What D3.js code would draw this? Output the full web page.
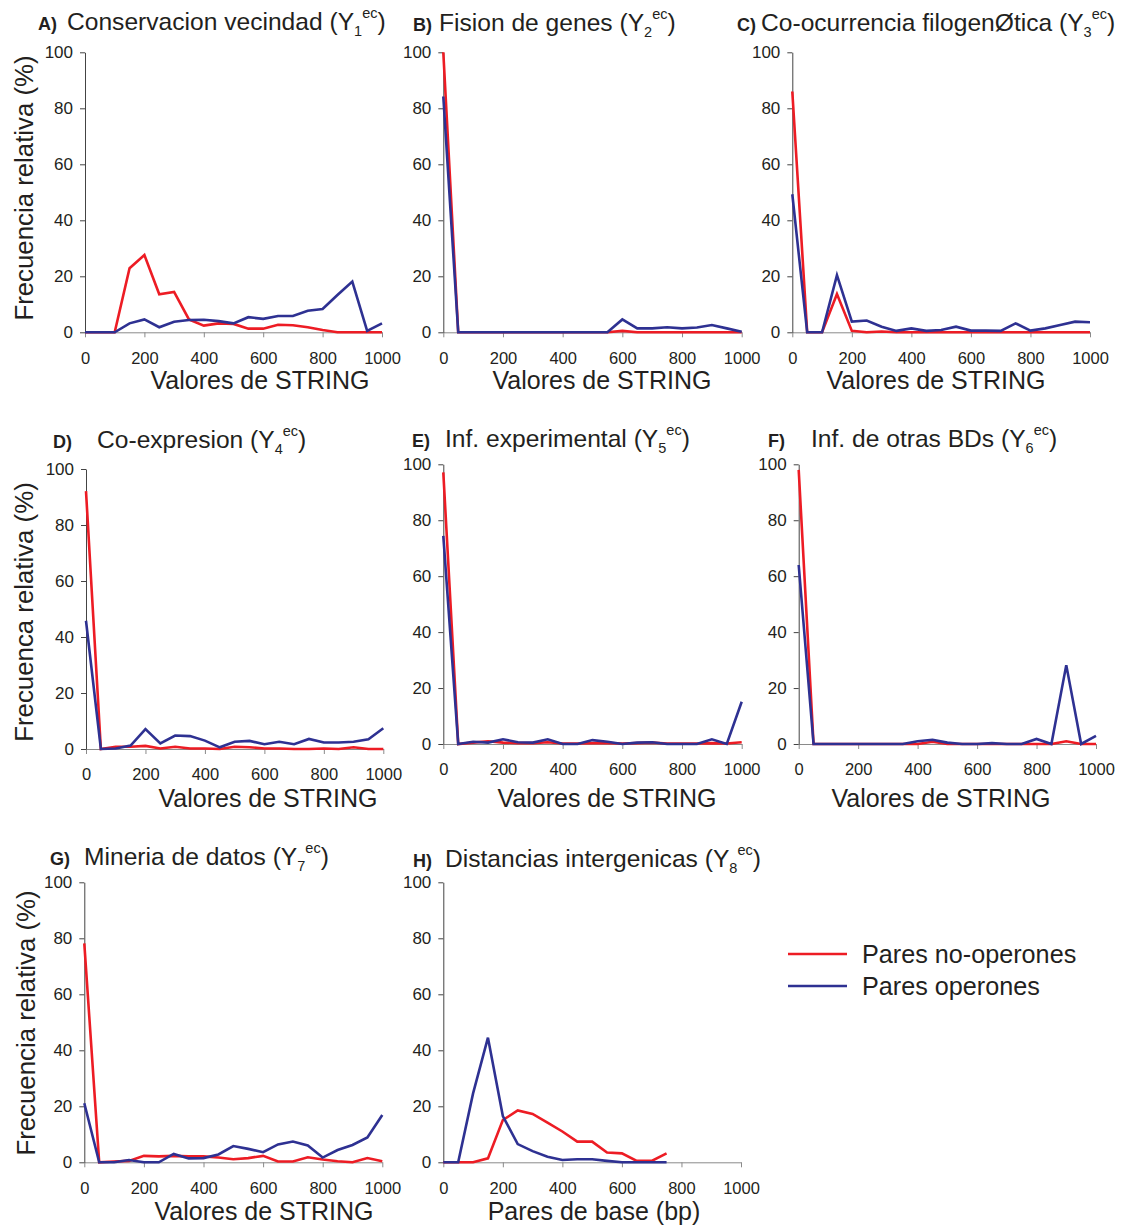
<!DOCTYPE html>
<html><head><meta charset="utf-8">
<script src="https://cdn.jsdelivr.net/npm/d3@7"></script>
<style>body{margin:0;background:#fff}svg{display:block;font-family:"Liberation Sans",Arial,sans-serif}</style>
</head><body>
<svg id="c" width="1124" height="1226"></svg>
<script>
// ---------- DATA ----------
const xString = [0,50,100,150,200,250,300,350,400,450,500,550,600,650,700,750,800,850,900,950,1000];
const xBp = [0,50,100,150,200,250,300,350,400,450,500,550,600,650,700,750];
const xTicks = [0,200,400,600,800,1000];
const yTicks = [0,20,40,60,80,100];
const seriesNames = ["Pares no-operones","Pares operones"];

const aRed  = [0,0,0,22.9,27.6,13.6,14.4,4.6,2.4,3.2,3,1.3,1.3,2.7,2.5,1.8,0.8,0,0,0,0];
const aBlue = [0,0,0,3.2,4.6,1.8,3.8,4.4,4.5,4,3.2,5.4,4.8,5.8,5.8,7.7,8.3,13.3,18.1,0.5,3.2];
const bRed  = [100,0,0,0,0,0,0,0,0,0,0,0,0.5,0,0,0,0,0,0,0,0];
const bBlue = [84.2,0,0,0,0,0,0,0,0,0,0,0,4.6,1.4,1.4,1.8,1.4,1.7,2.6,1.4,0.2];
const cRed  = [86,0,0,13.7,0.5,0,0.3,0,0,0,0,0,0,0,0,0,0,0,0,0,0];
const cBlue = [49.3,0,0,20.4,3.8,4.2,2,0.5,1.4,0.5,0.8,2,0.6,0.6,0.5,3.2,0.6,1.4,2.6,3.8,3.6];
const dRed  = [92.1,0,0.8,0.8,1.1,0.2,0.8,0.2,0.2,0,0.8,0.6,0.2,0.2,0,0,0.2,0,0.6,0,0];
const dBlue = [45.8,0,0.2,1.2,7.1,2,4.8,4.6,3,0.6,2.6,2.9,1.7,2.6,1.7,3.6,2.3,2.3,2.6,3.5,7.4];
const eRed  = [97.1,0,0.5,1,0.5,0.3,0.3,0.6,0.2,0.2,0.3,0.3,0.2,0.3,0.5,0.2,0.2,0.2,0.3,0.2,0.6];
const eBlue = [74.4,0,0.8,0.5,1.7,0.6,0.5,1.7,0,0,1.4,0.8,0,0.5,0.6,0,0,0,1.7,0,15.1];
const fRed  = [98,0,0,0,0,0,0,0,0,0.8,0,0,0,0,0,0,0,0,1,0,0];
const fBlue = [64,0,0,0,0,0,0,0,1,1.5,0.5,0,0,0.3,0,0,1.8,0,28.2,0,2.9];
const gRed  = [78.2,0,0.3,0.5,2.3,2.1,2.3,2.1,2.1,1.7,1.1,1.5,2.3,0.3,0.3,1.8,1,0.4,0,1.5,0.4];
const gBlue = [21.1,0,0,0.8,0,0,3,1.4,1.5,2.8,5.8,4.8,3.6,6.4,7.4,6,1.7,4.4,6.2,8.9,16.9];
const hRed  = [0,0,0,1.4,15.1,18.5,17.3,14.2,11,7.4,7.4,3.5,3.2,0.5,0.5,3.2];
const hBlue = [0,0,24.6,44.5,16.5,6.5,4,2,0.8,1.1,1.1,0.5,0,0,0,0];

const letters = ["A)","B)","C)","D)","E)","F)","G)","H)"];
const titles = ["Conservacion vecindad","Fision de genes","Co-ocurrencia filogenØtica","Co-expresion","Inf. experimental","Inf. de otras BDs","Mineria de datos","Distancias intergenicas"];
const subs = ["1","2","3","4","5","6","7","8"];
const xTitles = ["Valores de STRING","Valores de STRING","Valores de STRING","Valores de STRING","Valores de STRING","Valores de STRING","Valores de STRING","Pares de base (bp)"];
const yTitles = ["Frecuencia relativa (%)",null,null,"Frecuenca relativa (%)",null,null,"Frecuencia relativa (%)",null];

// ---------- LAYOUT ----------
const layout = [
 {x0:85,  x1:382,  yT:52.3, yB:332.3, lx:38,  tx:67,  tb:30,  xc:260, xb:389, yl:[33,188]},
 {x0:443.3,x1:741.7,yT:52.3, yB:332.3, lx:413, tx:439, tb:31,  xc:602, xb:389},
 {x0:792.3,x1:1090, yT:52.3, yB:332.3, lx:737, tx:761, tb:31,  xc:936, xb:389},
 {x0:86,  x1:383.3,yT:469,  yB:749,   lx:53,  tx:97,  tb:448, xc:268, xb:807, yl:[33,612]},
 {x0:443.3,x1:741.7,yT:464.3,yB:744,   lx:412, tx:445, tb:447, xc:607, xb:807},
 {x0:798.7,x1:1096, yT:464.3,yB:744,   lx:768, tx:811, tb:447, xc:941, xb:807},
 {x0:84.3,x1:382.3,yT:882.3,yB:1162.3,lx:50,  tx:84,  tb:865, xc:264, xb:1220, yl:[35,1023]},
 {x0:443.3,x1:741, yT:882.3,yB:1162.3,lx:413, tx:445, tb:867, xc:594, xb:1220}
];
const panelData = [
 [xString,aRed,aBlue],[xString,bRed,bBlue],[xString,cRed,cBlue],
 [xString,dRed,dBlue],[xString,eRed,eBlue],[xString,fRed,fBlue],
 [xString,gRed,gBlue],[xBp,hRed,hBlue]
];
const RED = "#ed1c24", BLUE = "#2e3192", TXT = "#231f20";

const svg = d3.select("#c");

layout.forEach((L,i)=>{
  const [xs,red,blue] = panelData[i];
  const x = d3.scaleLinear().domain([0,1000]).range([L.x0,L.x1]);
  const y = d3.scaleLinear().domain([0,100]).range([L.yB,L.yT]);
  const g = svg.append("g");

  // x axis
  const xa = g.append("g").attr("transform",`translate(0,${L.yB})`)
    .call(d3.axisBottom(x).tickValues(xTicks).tickSize(5).tickSizeOuter(0).tickPadding(14.5).tickFormat(d3.format("d")));
  xa.selectAll("path,line").attr("stroke","#8a8a8a").attr("stroke-width",1);
  xa.selectAll("text").attr("font-size",16.5).attr("fill",TXT).attr("font-family","Liberation Sans, Arial, sans-serif");

  // y axis
  const ya = g.append("g").attr("transform",`translate(${L.x0},0)`)
    .call(d3.axisLeft(y).tickValues(yTicks).tickSize(5).tickSizeOuter(0).tickPadding(7));
  ya.selectAll("path,line").attr("stroke","#444").attr("stroke-width",1);
  ya.selectAll("text").attr("font-size",17).attr("fill",TXT).attr("font-family","Liberation Sans, Arial, sans-serif");

  const line = d3.line().x((d,j)=>x(xs[j])).y(d=>y(d));
  g.append("path").datum(red).attr("d",line).attr("fill","none").attr("stroke",RED).attr("stroke-width",2.6).attr("stroke-linejoin","miter");
  g.append("path").datum(blue).attr("d",line).attr("fill","none").attr("stroke",BLUE).attr("stroke-width",2.6).attr("stroke-linejoin","miter");

  // panel letter
  g.append("text").attr("x",L.lx).attr("y",L.tb).attr("font-size",18).attr("font-weight","bold").attr("fill",TXT).text(letters[i]);
  // title
  const t = g.append("text").attr("x",L.tx).attr("y",L.tb).attr("font-size",24.6).attr("fill",TXT);
  t.append("tspan").text(titles[i]+" (Y");
  t.append("tspan").attr("font-size",14.5).attr("dy",6).text(subs[i]);
  t.append("tspan").attr("font-size",14.5).attr("dy",-18).text("ec");
  t.append("tspan").attr("dy",12).text(")");

  // x title
  g.append("text").attr("x",L.xc).attr("y",L.xb).attr("text-anchor","middle").attr("font-size",25).attr("fill",TXT).text(xTitles[i]);
  // y title
  if (yTitles[i]) {
    g.append("text").attr("transform",`translate(${L.yl[0]},${L.yl[1]}) rotate(-90)`)
      .attr("text-anchor","middle").attr("font-size",25.8).attr("fill",TXT).text(yTitles[i]);
  }
});

// legend
const legend = svg.append("g");
const legendY = [954,986];
seriesNames.forEach((name,k)=>{
  legend.append("line").attr("x1",788).attr("x2",847).attr("y1",legendY[k]).attr("y2",legendY[k])
    .attr("stroke",k===0?RED:BLUE).attr("stroke-width",2.6);
  legend.append("text").attr("x",862).attr("y",legendY[k]+9).attr("font-size",25.2).attr("fill",TXT).text(name);
});
</script>
</body></html>
